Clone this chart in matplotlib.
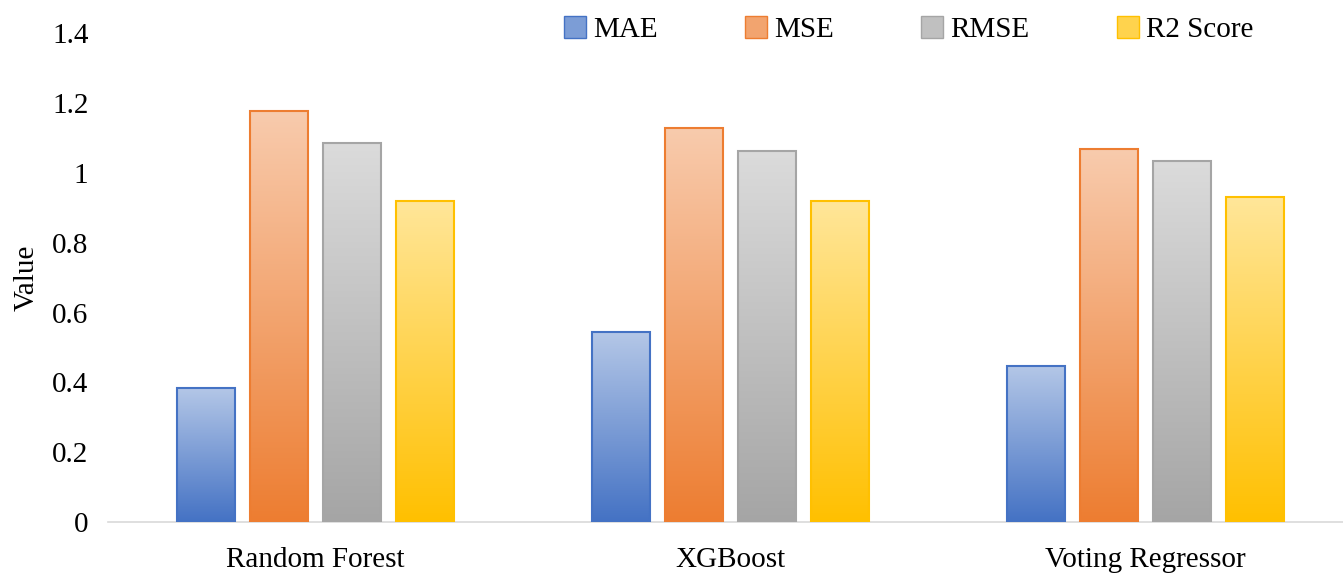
import matplotlib.pyplot as plt
import numpy as np
from matplotlib.colors import LinearSegmentedColormap
from matplotlib.patches import Patch

plt.rcParams['font.family'] = ['Liberation Serif', 'DejaVu Serif']

models = ['Random Forest', 'XGBoost', 'Voting Regressor']
metrics = ['MAE', 'MSE', 'RMSE', 'R2 Score']
mae = [0.384, 0.544, 0.447]
mse = [1.177, 1.128, 1.068]
rmse = [1.085, 1.062, 1.033]
r2 = [0.919, 0.919, 0.930]
series = [mae, mse, rmse, r2]

# top (light) and bottom (dark) colour of each bar gradient, plus edge colour
tops = ['#b4c7e7', '#f8cbad', '#dbdbdb', '#ffe699']
bottoms = ['#4472c4', '#ed7d31', '#a5a5a5', '#ffc000']
edges = ['#4472c4', '#ed7d31', '#a5a5a5', '#ffc000']
mids = ['#7c9dd6', '#f2a46f', '#c0c0c0', '#ffd34d']

fig = plt.figure(figsize=(13.43, 5.73), dpi=100)
ax = fig.add_axes([0.0804, 0.089, 0.9196, 0.853])

step = 0.176
width = 0.14
x = np.arange(len(models))
grad = np.linspace(1, 0, 256).reshape(-1, 1)

for i, vals in enumerate(series):
    cmap = LinearSegmentedColormap.from_list('g%d' % i, [bottoms[i], tops[i]])
    for j, v in enumerate(vals):
        xc = x[j] + (i - 1.5) * step
        ax.imshow(grad, extent=[xc - width / 2, xc + width / 2, 0, v],
                  aspect='auto', cmap=cmap, vmin=0, vmax=1, zorder=2)
    ax.bar(x + (i - 1.5) * step, vals, width, facecolor='none',
           edgecolor=edges[i], linewidth=1.5, zorder=3)

ax.set_xlim(-0.5, 2.475)
ax.set_ylim(0, 1.4)
ax.set_yticks(np.arange(0, 1.41, 0.2))
ax.set_yticklabels(['0', '0.2', '0.4', '0.6', '0.8', '1', '1.2', '1.4'])
ax.set_xticks(x)
ax.set_xticklabels(models)
ax.tick_params(axis='both', length=0, labelsize=21)
ax.tick_params(axis='x', pad=18)
ax.tick_params(axis='y', pad=14)
ax.set_ylabel('Value', fontsize=21, labelpad=9)

for s in ['top', 'right', 'left']:
    ax.spines[s].set_visible(False)
ax.spines['bottom'].set_color('#d9d9d9')
ax.spines['bottom'].set_linewidth(1.2)

handles = [Patch(facecolor=mids[i], edgecolor=edges[i], label=metrics[i]) for i in range(4)]
ax.legend(handles=handles, ncol=4, loc='upper right', bbox_to_anchor=(0.949, 1.088),
          frameon=False, fontsize=21, handlelength=0.75, handleheight=0.75,
          handletextpad=0.25, columnspacing=3.0)

fig.savefig('out.png', dpi=100)
